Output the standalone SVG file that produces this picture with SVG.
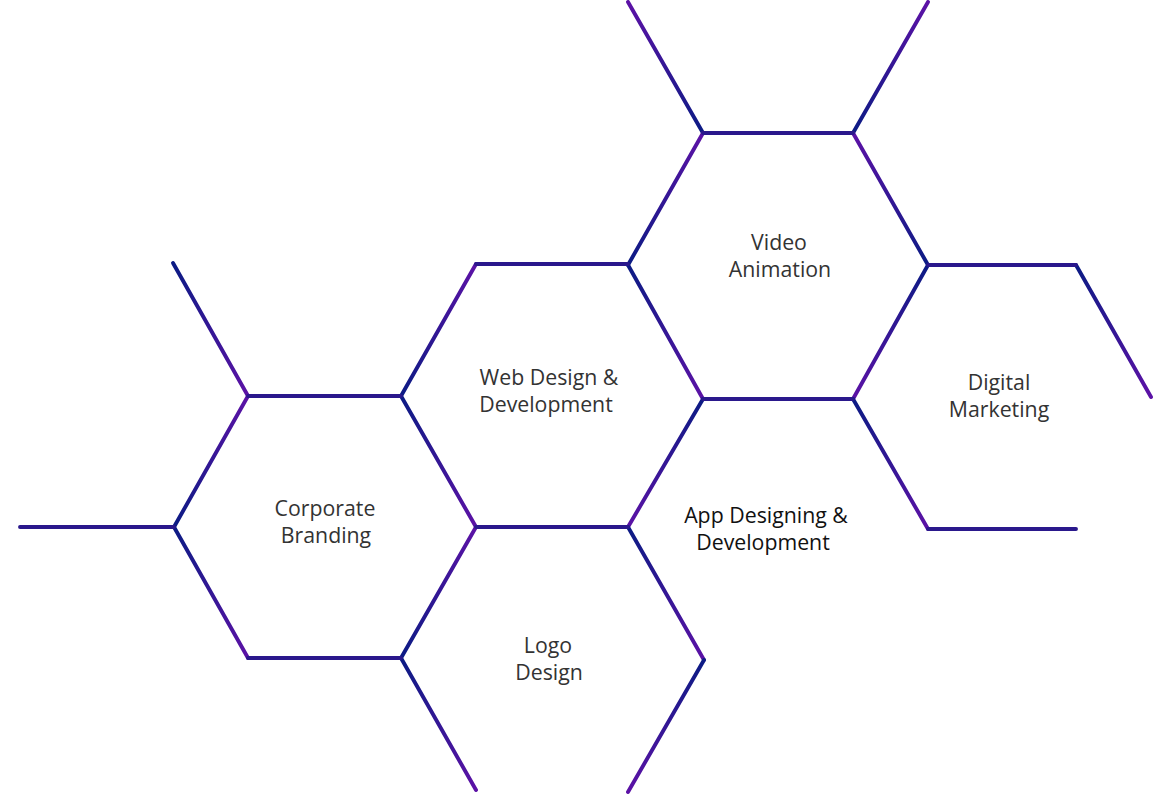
<svg xmlns="http://www.w3.org/2000/svg" width="1153" height="808" viewBox="0 0 1153 808">
<defs>
<linearGradient id="pt" x1="0" y1="0" x2="0" y2="1">
<stop offset="0" stop-color="#5c12a6"/>
<stop offset="1" stop-color="#0b1b84"/>
</linearGradient>
<linearGradient id="nt" x1="0" y1="0" x2="0" y2="1">
<stop offset="0" stop-color="#0b1b84"/>
<stop offset="1" stop-color="#5c12a6"/>
</linearGradient>
<style>
line{stroke-width:3.9;stroke-linecap:round;fill:none}
.pt{stroke:url(#pt)}
.nt{stroke:url(#nt)}
.h{stroke:#2a188c}
text{font-family:"Open Sans","Liberation Sans",sans-serif;font-size:21.3px;fill:#333;text-anchor:middle}
.dark{fill:#111}
</style>
</defs>
<rect width="1153" height="808" fill="#fff"/>
<g id="connectors">
<line class="pt" x1="628" y1="2" x2="703" y2="133"/>
<line class="pt" x1="928" y1="2" x2="853" y2="133"/>
<line class="pt" x1="703" y1="133" x2="628" y2="265"/>
<line class="pt" x1="853" y1="133" x2="928" y2="265"/>
<line class="pt" x1="476" y1="264" x2="401" y2="396"/>
<line class="pt" x1="248" y1="396" x2="174" y2="527"/>
<line class="pt" x1="476" y1="527" x2="401" y2="658"/>
<line class="nt" x1="628" y1="265" x2="703" y2="399"/>
<line class="nt" x1="928" y1="265" x2="853" y2="399"/>
<line class="nt" x1="401" y1="396" x2="476" y2="527"/>
<line class="nt" x1="703" y1="399" x2="628" y2="527"/>
<line class="nt" x1="174" y1="527" x2="248" y2="658"/>
<line class="nt" x1="173" y1="263" x2="248" y2="396"/>
<line class="nt" x1="401" y1="658" x2="476" y2="790"/>
<line class="nt" x1="628" y1="527" x2="704" y2="660"/>
<line class="nt" x1="704" y1="660" x2="628" y2="792"/>
<line class="nt" x1="1076" y1="265" x2="1151" y2="397"/>
<line class="nt" x1="853" y1="399" x2="928" y2="529"/>
<line class="h" x1="703" y1="133" x2="853" y2="133"/>
<line class="h" x1="703" y1="399" x2="853" y2="399"/>
<line class="h" x1="476" y1="264" x2="628" y2="264"/>
<line class="h" x1="476" y1="527" x2="628" y2="527"/>
<line class="h" x1="248" y1="396" x2="401" y2="396"/>
<line class="h" x1="248" y1="658" x2="401" y2="658"/>
<line class="h" x1="20" y1="527" x2="174" y2="527"/>
<line class="h" x1="928" y1="265" x2="1076" y2="265"/>
<line class="h" x1="928" y1="529" x2="1076" y2="529"/>
</g>
<g id="video-animation"><text x="779" y="250">Video</text><text x="780" y="277">Animation</text></g>
<g id="web-design"><text x="549" y="385">Web Design &amp;</text><text x="546" y="412">Development</text></g>
<g id="corporate-branding"><text x="325" y="516">Corporate</text><text x="326" y="543">Branding</text></g>
<g id="logo-design"><text x="548" y="653">Logo</text><text x="549" y="680">Design</text></g>
<g id="digital-marketing"><text x="999" y="390">Digital</text><text x="999" y="417">Marketing</text></g>
<g id="app-design"><text class="dark" x="766" y="523">App Designing &amp;</text><text class="dark" x="763" y="550">Development</text></g>
</svg>
